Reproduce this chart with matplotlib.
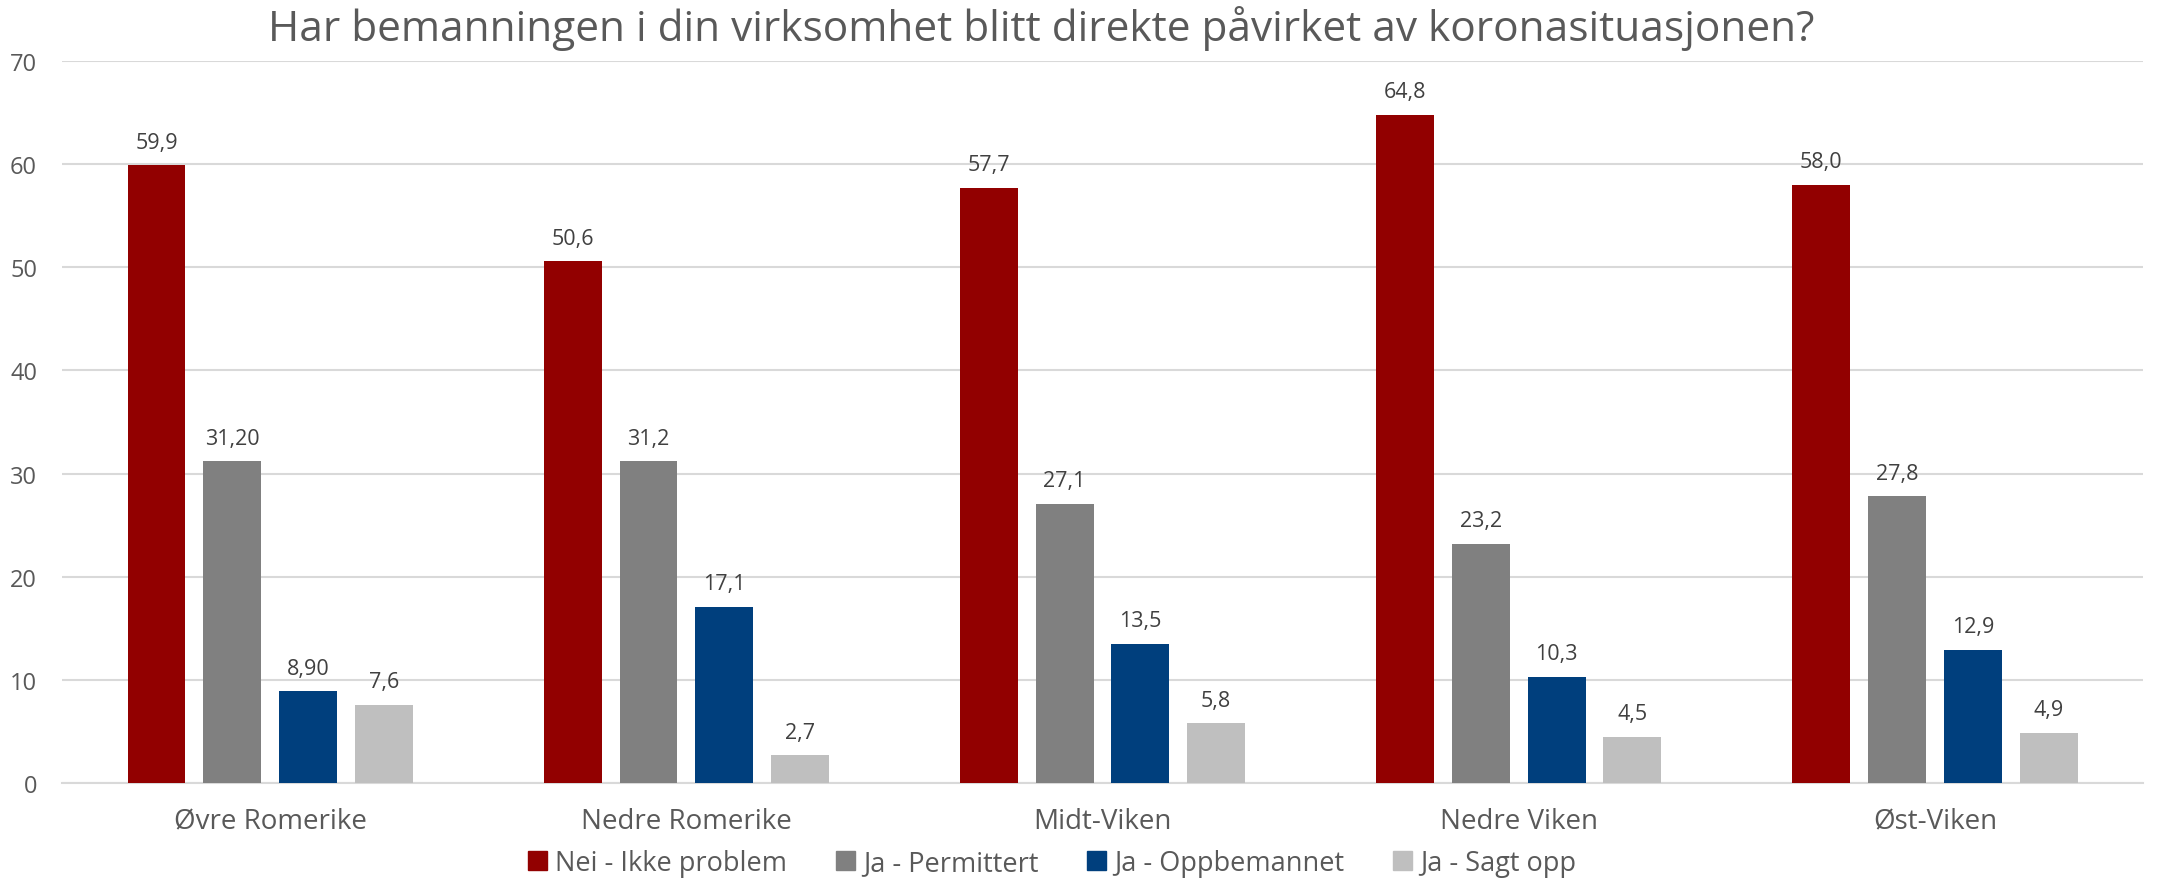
import matplotlib.pyplot as plt
import numpy as np
from matplotlib.patches import Patch

regions = ["Øvre Romerike", "Nedre Romerike", "Midt-Viken", "Nedre Viken", "Øst-Viken"]
series = ["Nei - Ikke problem", "Ja - Permittert", "Ja - Oppbemannet", "Ja - Sagt opp"]
nei_ikke_problem = [59.9, 50.6, 57.7, 64.8, 58.0]
ja_permittert = [31.2, 31.2, 27.1, 23.2, 27.8]
ja_oppbemannet = [8.9, 17.1, 13.5, 10.3, 12.9]
ja_sagt_opp = [7.6, 2.7, 5.8, 4.5, 4.9]
# labels as printed in the chart (mixed decimals in first group)
label_text = [
    ["59,9", "50,6", "57,7", "64,8", "58,0"],
    ["31,20", "31,2", "27,1", "23,2", "27,8"],
    ["8,90", "17,1", "13,5", "10,3", "12,9"],
    ["7,6", "2,7", "5,8", "4,5", "4,9"],
]
colors = ["#920000", "#808080", "#003F7D", "#BFBFBF"]
text_col = "#595959"

plt.rcParams["font.family"] = ["Open Sans", "DejaVu Sans"]

fig = plt.figure(figsize=(21.61, 8.79), dpi=100)
ax = fig.add_axes([0.0287, 0.108, 0.963, 0.8215])

values = [nei_ikke_problem, ja_permittert, ja_oppbemannet, ja_sagt_opp]
x = np.arange(len(regions))
width = 0.139
step = 0.182
for i, (vals, col) in enumerate(zip(values, colors)):
    pos = x + (i - 1.5) * step
    ax.bar(pos, vals, width=width, color=col, zorder=3)
    for p, v, t in zip(pos, vals, label_text[i]):
        ax.annotate(t, (p, v), xytext=(0, 9), textcoords="offset points",
                    ha="center", va="bottom", fontsize=15.5, color="#404040")

ax.set_xlim(-0.5, len(regions) - 0.5)
ax.set_ylim(0, 70)
ax.set_yticks(range(0, 71, 10))
ax.yaxis.grid(True, color="#D9D9D9", linewidth=1.5, zorder=0)
ax.set_axisbelow(True)
for s in ["top", "right", "left"]:
    ax.spines[s].set_visible(False)
ax.spines["bottom"].set_color("#D9D9D9")
ax.spines["bottom"].set_linewidth(1.5)
ax.tick_params(axis="both", length=0, colors=text_col, labelsize=17)
ax.tick_params(axis="y", pad=18)
ax.tick_params(axis="x", pad=17, labelsize=20)
ax.set_xticks(x)
ax.set_xticklabels(regions)

fig.text(0.482, 0.968, "Har bemanningen i din virksomhet blitt direkte påvirket av koronasituasjonen?",
         ha="center", va="center", fontsize=30.5, color=text_col)

handles = [Patch(color=c, label=s) for c, s in zip(colors, series)]
fig.legend(handles=handles, loc="center", bbox_to_anchor=(0.487, 0.017), ncol=4, frameon=False,
           fontsize=19.5, labelcolor=text_col, handlelength=0.7, handleheight=0.7,
           handletextpad=0.3, columnspacing=1.8)

fig.savefig("out.png", dpi=100)
